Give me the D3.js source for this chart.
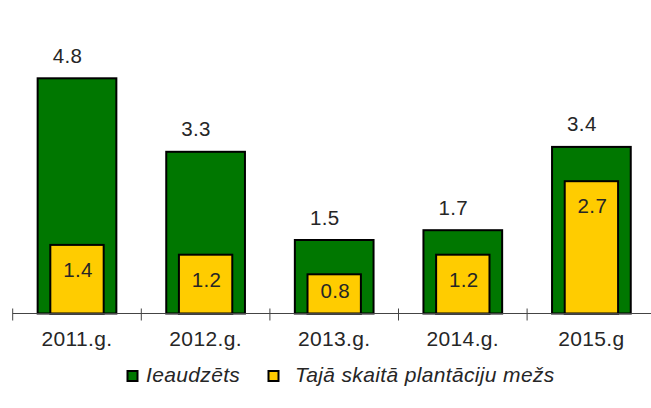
<!DOCTYPE html>
<html lang="en">
<head>
<meta charset="UTF-8">
<title>Ieaudzēts / plantāciju mežs</title>
<script src="https://d3js.org/d3.v7.min.js"></script>
<style>
  body { margin: 0; background: #fff; font-family: "Liberation Sans", Arial, sans-serif; }
  svg text { fill: #262626; letter-spacing: 0.35px; }
</style>
</head>
<body>
<div id="chart"></div>
<script>
const years = ["2011.g.", "2012.g.", "2013.g.", "2014.g.", "2015.g"];
const planted = [4.8, 3.3, 1.5, 1.7, 3.4];
const plantation = [1.4, 1.2, 0.8, 1.2, 2.7];
const seriesNames = ["Ieaudzēts", "Tajā skaitā plantāciju mežs"];
const seriesColors = ["#007700", "#ffcc00"];

const width = 651, height = 408;
const base = 313.5;

const svg = d3.select("#chart").append("svg")
  .attr("width", width)
  .attr("height", height);

const x = d3.scaleBand()
  .domain(years)
  .range([12.7, 655.7]);

const y = d3.scaleLinear()
  .domain([0, 6])
  .range([base, base - 6 * 49]);

const outerW = x.bandwidth() * 0.612;
const innerW = x.bandwidth() * 0.415;

// green bars
svg.selectAll(".outer")
  .data(years)
  .join("rect")
  .attr("x", d => x(d) + (x.bandwidth() - outerW) / 2)
  .attr("y", (d, i) => y(planted[i]))
  .attr("width", outerW)
  .attr("height", (d, i) => base - y(planted[i]))
  .attr("fill", seriesColors[0])
  .attr("stroke", "#000")
  .attr("stroke-width", 2);

// yellow bars
svg.selectAll(".inner")
  .data(years)
  .join("rect")
  .attr("x", d => x(d) + (x.bandwidth() - innerW) / 2)
  .attr("y", (d, i) => y(plantation[i]))
  .attr("width", innerW)
  .attr("height", (d, i) => base - y(plantation[i]))
  .attr("fill", seriesColors[1])
  .attr("stroke", "#000")
  .attr("stroke-width", 2);

// axis
const axis = svg.append("g").attr("transform", `translate(0,${base})`);
axis.append("line")
  .attr("x1", 12.7).attr("x2", width)
  .attr("stroke", "#444").attr("stroke-width", 1);
axis.selectAll(".tick")
  .data(years.concat(["end"]))
  .join("line")
  .attr("x1", (d, i) => 12.7 + i * x.step())
  .attr("x2", (d, i) => 12.7 + i * x.step())
  .attr("y1", -5).attr("y2", 7)
  .attr("stroke", "#444");
axis.selectAll(".lbl")
  .data(years)
  .join("text")
  .attr("x", d => x(d) + x.bandwidth() / 2)
  .attr("y", 32.5)
  .attr("text-anchor", "middle")
  .attr("font-size", "21px")
  .text(d => d);

// value labels above green bars
svg.selectAll(".vOuter")
  .data(years)
  .join("text")
  .attr("x", d => x(d) + x.bandwidth() / 2 - 9.5)
  .attr("y", (d, i) => y(planted[i]) - 15.5)
  .attr("text-anchor", "middle")
  .attr("font-size", "20.5px")
  .text((d, i) => planted[i].toFixed(1));

// value labels inside yellow bars
svg.selectAll(".vInner")
  .data(years)
  .join("text")
  .attr("x", d => x(d) + x.bandwidth() / 2 + 1)
  .attr("y", (d, i) => Math.min(y(plantation[i]) + 32, base - 15.5))
  .attr("text-anchor", "middle")
  .attr("font-size", "20.5px")
  .text((d, i) => plantation[i].toFixed(1));

// legend
const legendX = [127.5, 268.5];
const leg = svg.selectAll(".leg")
  .data(seriesNames)
  .join("g")
  .attr("transform", (d, i) => `translate(${legendX[i]},371)`);
leg.append("rect")
  .attr("width", 10).attr("height", 10)
  .attr("fill", (d, i) => seriesColors[i])
  .attr("stroke", "#000")
  .attr("stroke-width", 2);
leg.append("text")
  .attr("x", (d, i) => i === 0 ? 18.5 : 26.5)
  .attr("y", 10.5)
  .attr("font-size", "21px")
  .attr("font-style", "italic")
  .text(d => d);
</script>
</body>
</html>
